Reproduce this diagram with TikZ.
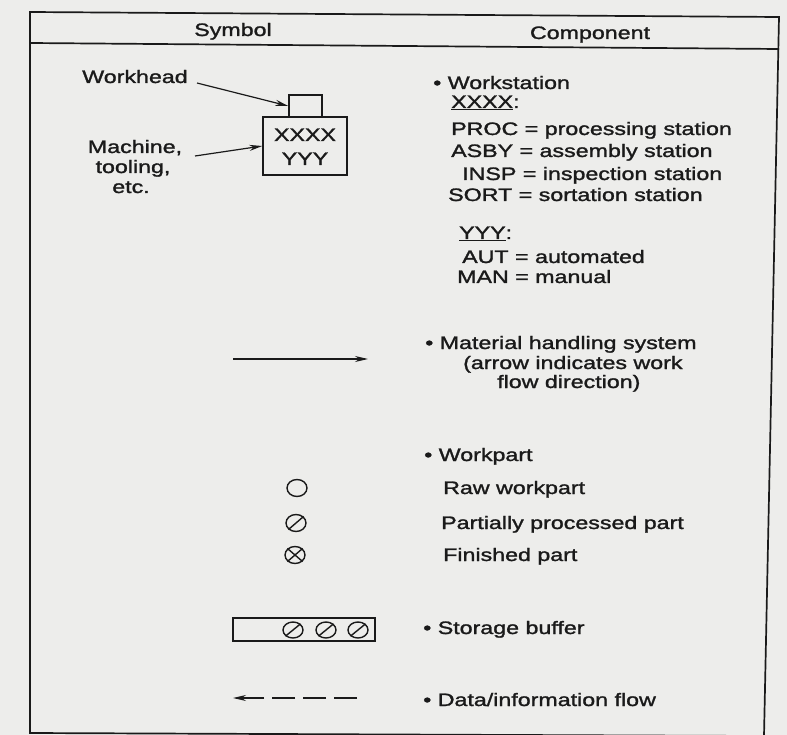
\documentclass[tikz,border=0pt]{standalone}
\usepackage{fontspec}
\setmainfont{Liberation Sans}[FakeStretch=1.29,FakeBold=1.5]
\usetikzlibrary{arrows.meta,shapes.geometric}
\definecolor{paper}{RGB}{237,237,235}
\definecolor{ink}{RGB}{26,26,26}
\begin{document}
\begin{tikzpicture}[x=1pt,y=-1pt,
  txt/.style={inner sep=0pt, anchor=base west, text=ink, font=\fontsize{18}{21}\selectfont},
  ctxt/.style={txt, anchor=base},
  frameline/.style={draw=ink, line width=1.7pt},
  sym/.style={draw=ink, line width=1.4pt, inner sep=0pt},
  part/.style={sym, ellipse, minimum width=20pt, minimum height=17pt},
  arr/.style={-{Stealth[length=13pt,width=6pt]}, draw=ink, line width=1.2pt}
]
\fill[paper] (0,0) rectangle (787,735);
\useasboundingbox (0,0) rectangle (787,735);

% frame
\coordinate (tl) at (30,12);
\coordinate (tr) at (779,17);
\coordinate (br) at (764,736);
\coordinate (bl) at (30,733);
\coordinate (hl) at (30,43);
\coordinate (hr) at (779,49);
\draw[frameline] (tl) -- (tr) -- (br) -- (bl) -- cycle;
\draw[frameline] (hl) -- (hr);

% header
\node[ctxt] (hsym) at (233,36) {Symbol};
\node[ctxt] (hcomp) at (590,39) {Component};

% workstation symbol
\node[sym, minimum width=33pt, minimum height=22pt] (head) at (305.5,106) {};
\node[sym, minimum width=84pt, minimum height=58pt] (mach) at (305,146) {};
\node[ctxt] (xx) at (305,141) {XXXX};
\node[ctxt] (yy) at (305,165) {YYY};
\node[ctxt] (lhead) at (135,83) {Workhead};
\node[ctxt] (lm1) at (135,153) {Machine,};
\node[ctxt] (lm2) at (133,173) {tooling,};
\node[ctxt] (lm3) at (131,193) {etc.};
\coordinate (wa) at (197,83);
\coordinate (mca) at (195,156);
\draw[arr] (wa) -- (head.west);
\draw[arr] (mca) -- (mach.west);

% workstation text
\node[txt] (ws) at (433,89) {• Workstation};
\node[txt] (xxxx) at (451,108) {\underline{XXXX}:};
\node[txt] (proc) at (451,135) {PROC = processing station};
\node[txt] (asby) at (451,157) {ASBY = assembly station};
\node[txt] (insp) at (462,180) {INSP = inspection station};
\node[txt] (sort) at (448,201) {SORT = sortation station};
\node[txt] (yyy) at (459,239) {\underline{YYY}:};
\node[txt] (aut) at (462,263) {AUT = automated};
\node[txt] (man) at (457,283) {MAN = manual};

% material handling
\coordinate (ma1) at (233,359);
\coordinate (ma2) at (368,359);
\draw[arr] (ma1) -- (ma2);
\node[txt] (mh1) at (425,349) {• Material handling system};
\node[txt] (mh2) at (463,369) {(arrow indicates work};
\node[txt] (mh3) at (497,388) {flow direction)};

% workparts
\node[txt] (wp) at (424,461) {• Workpart};
\node[part] (rawsym) at (297,488) {};
\node[txt] (raw) at (443,494) {Raw workpart};
\node[part] (partsym) at (296,523) {};
\draw[sym] (partsym.south west) -- (partsym.north east);
\node[txt] (partial) at (441,529) {Partially processed part};
\node[part] (finsym) at (295,555) {};
\draw[sym] (finsym.south west) -- (finsym.north east);
\draw[sym] (finsym.north west) -- (finsym.south east);
\node[txt] (fin) at (443,561) {Finished part};

% storage buffer
\node[sym, minimum width=142pt, minimum height=23pt] (buf) at (304,629.5) {};
\foreach \i/\x in {1/293,2/326,3/358}{
  \node[part, minimum height=16pt] (b\i) at (\x,630) {};
  \draw[sym] (b\i.south west) -- (b\i.north east);
}
\node[txt] (sb) at (423,634) {• Storage buffer};

% data flow
\coordinate (df1) at (357,698);
\coordinate (df2) at (233,698);
\draw[arr, dash pattern=on 23pt off 8pt] (df1) -- (df2);
\node[txt] (dfl) at (423,706) {• Data/information flow};
\end{tikzpicture}
\end{document}
